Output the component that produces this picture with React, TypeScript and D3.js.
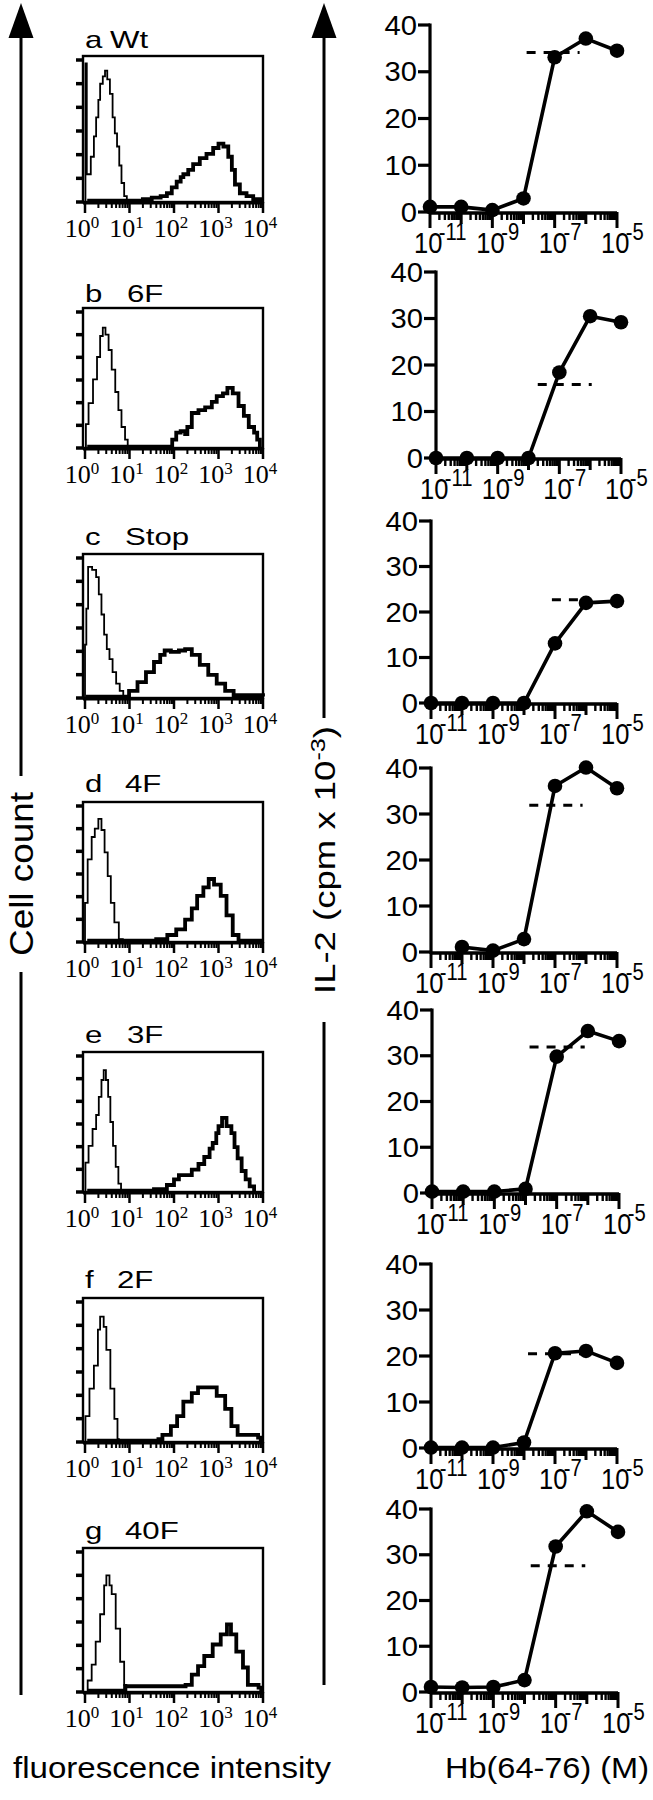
import React from 'react';
import * as d3 from 'd3';

// ---------- data ----------
const panelLetters = ['a', 'b', 'c', 'd', 'e', 'f', 'g'];
const mutantNames = ['Wt', '6F', 'Stop', '4F', '3F', '2F', '40F'];

// flow histograms: [log10 fluorescence, relative cell count]
const ctrlA = [[0,0],[0.01,0.95],[0.04,0.19],[0.13,0.31],[0.2,0.45],[0.25,0.58],[0.3,0.7],[0.34,0.81],[0.4,0.86],[0.45,0.9],[0.5,0.84],[0.56,0.74],[0.62,0.58],[0.67,0.47],[0.72,0.38],[0.77,0.25],[0.82,0.13],[0.88,0.04],[0.94,0]];
const sampleA = [[0.05,0.01],[0.95,0.01],[1.3,0.02],[1.5,0.03],[1.7,0.04],[1.84,0.06],[1.95,0.1],[2.06,0.14],[2.15,0.17],[2.21,0.19],[2.32,0.22],[2.43,0.26],[2.58,0.3],[2.73,0.33],[2.88,0.37],[3.0,0.4],[3.11,0.38],[3.22,0.31],[3.3,0.22],[3.37,0.12],[3.48,0.06],[3.63,0.04],[3.78,0.02],[3.95,0.01],[4.0,0.01]];
const ctrlB = [[0,0],[0.02,0.17],[0.08,0.32],[0.18,0.49],[0.27,0.65],[0.34,0.8],[0.4,0.86],[0.46,0.81],[0.53,0.7],[0.6,0.56],[0.68,0.4],[0.75,0.27],[0.82,0.15],[0.9,0.06],[0.96,0.01],[0.99,0]];
const sampleB = [[0.05,0.01],[1.91,0.01],[1.96,0.06],[2.05,0.11],[2.15,0.12],[2.25,0.1],[2.3,0.15],[2.4,0.25],[2.55,0.27],[2.7,0.29],[2.85,0.33],[2.96,0.37],[3.1,0.39],[3.2,0.43],[3.32,0.39],[3.45,0.3],[3.57,0.23],[3.68,0.15],[3.8,0.11],[3.87,0.06],[3.93,0]];
const ctrlC = [[0,0],[0,0.37],[0.03,0.62],[0.07,0.91],[0.16,0.89],[0.25,0.84],[0.31,0.72],[0.37,0.58],[0.43,0.44],[0.49,0.34],[0.55,0.27],[0.62,0.18],[0.7,0.1],[0.78,0.05],[0.86,0]];
const sampleC = [[0.02,0.01],[0.9,0.01],[0.99,0.05],[1.18,0.11],[1.37,0.18],[1.55,0.25],[1.69,0.3],[1.79,0.33],[1.93,0.32],[2.11,0.33],[2.25,0.34],[2.4,0.3],[2.58,0.23],[2.77,0.16],[2.96,0.1],[3.15,0.05],[3.34,0.02],[3.6,0.02],[4.0,0.01]];
const ctrlD = [[0,0],[0,0.28],[0.06,0.59],[0.15,0.75],[0.22,0.81],[0.3,0.88],[0.37,0.8],[0.44,0.64],[0.51,0.47],[0.58,0.28],[0.66,0.14],[0.76,0.02],[0.85,0]];
const sampleD = [[0.05,0.01],[1.46,0.01],[1.6,0.02],[1.85,0.05],[2.05,0.09],[2.25,0.16],[2.4,0.24],[2.52,0.33],[2.66,0.39],[2.78,0.45],[2.9,0.41],[3.05,0.33],[3.18,0.19],[3.32,0.05],[3.45,0.01],[4.0,0.01]];
const ctrlE = [[0,0],[0.01,0.21],[0.08,0.33],[0.17,0.45],[0.25,0.55],[0.31,0.68],[0.37,0.8],[0.42,0.87],[0.47,0.8],[0.52,0.68],[0.57,0.5],[0.63,0.33],[0.69,0.18],[0.75,0.06],[0.81,0]];
const sampleE = [[0.05,0.01],[1.3,0.01],[1.55,0.02],[1.84,0.05],[2.0,0.09],[2.11,0.12],[2.4,0.16],[2.55,0.2],[2.68,0.25],[2.8,0.31],[2.87,0.35],[2.95,0.42],[3.0,0.47],[3.08,0.53],[3.18,0.47],[3.29,0.42],[3.36,0.32],[3.43,0.24],[3.52,0.15],[3.61,0.09],[3.7,0.04],[3.8,0]];
const ctrlF = [[0,0],[0.01,0.18],[0.1,0.37],[0.2,0.53],[0.29,0.78],[0.34,0.87],[0.42,0.8],[0.48,0.64],[0.57,0.37],[0.66,0.16],[0.73,0.02],[0.76,0]];
const sampleF = [[0.05,0.01],[1.65,0.02],[1.74,0.05],[1.93,0.11],[2.07,0.18],[2.21,0.28],[2.4,0.34],[2.54,0.38],[2.77,0.38],[2.96,0.32],[3.15,0.23],[3.29,0.11],[3.43,0.05],[3.89,0.03],[3.95,0]];
const ctrlG = [[0,0],[0.06,0.08],[0.15,0.19],[0.24,0.35],[0.34,0.54],[0.43,0.74],[0.48,0.81],[0.55,0.74],[0.6,0.68],[0.69,0.44],[0.79,0.21],[0.88,0.05],[0.93,0]];
const sampleG = [[0.05,0.01],[0.9,0.04],[2.26,0.05],[2.4,0.12],[2.54,0.18],[2.68,0.25],[2.87,0.33],[3.05,0.4],[3.19,0.47],[3.28,0.4],[3.4,0.28],[3.55,0.17],[3.66,0.05],[3.9,0.03],[3.96,0]];

const controlHists = [ctrlA, ctrlB, ctrlC, ctrlD, ctrlE, ctrlF, ctrlG];
const sampleHists = [sampleA, sampleB, sampleC, sampleD, sampleE, sampleF, sampleG];
const histTickExps = [0, 1, 2, 3, 4];

// dose response: IL-2 (cpm x 10^-3) vs Hb(64-76) concentration 10^exp M
const concExps = [-11, -10, -9, -8, -7, -6, -5];
const il2A = [1.1, 1.1, 0.4, 2.9, 33.1, 37.1, 34.5];
const il2B = [0, 0, 0, 0, 18.4, 30.5, 29.2];
const il2C = [0, 0, 0, 0, 13.1, 22.0, 22.4];
const il2D = [null, 1.1, 0.3, 2.8, 36.1, 40.1, 35.6];
const il2E = [0.3, 0.3, 0.3, 0.9, 29.8, 35.4, 33.2];
const il2F = [0.1, 0.1, 0.1, 1.2, 20.6, 21.1, 18.5];
const il2G = [1.1, 1.0, 1.1, 2.6, 31.8, 39.5, 35.0];
const il2Series = [il2A, il2B, il2C, il2D, il2E, il2F, il2G];
const dashLevels = [34.1, 15.8, 22.7, 31.9, 31.9, 20.5, 27.6];
const dashFromExp = [-7.9, -7.7, -7.1, -7.83, -7.87, -7.87, -7.8];
const dashToExp = [-6.2, -5.95, -6.1, -6.11, -6.1, -6.1, -6.05];
const il2Ticks = [0, 10, 20, 30, 40];
const concLabelExps = [-11, -9, -7, -5];
const concMajorExps = [-11, -10, -9, -8, -7, -6, -5];

// ---------- layout ----------
const histLayout = [
  { top: 56, base: 202, title: 48, nameX: 110 },
  { top: 308, base: 448, title: 302, nameX: 127 },
  { top: 554, base: 698, title: 545, nameX: 125 },
  { top: 802, base: 942, title: 792, nameX: 125 },
  { top: 1052, base: 1192, title: 1043, nameX: 127 },
  { top: 1298, base: 1442, title: 1288, nameX: 117 },
  { top: 1548, base: 1692, title: 1539, nameX: 125 },
];
const doseLayout = [
  { y0: 212, y40: 25, x0: 430, x1: 617 },
  { y0: 458, y40: 272, x0: 436, x1: 621 },
  { y0: 703, y40: 521, x0: 431, x1: 617 },
  { y0: 952, y40: 768, x0: 431, x1: 617 },
  { y0: 1193, y40: 1010, x0: 432, x1: 619 },
  { y0: 1448, y40: 1264, x0: 431, x1: 617 },
  { y0: 1692, y40: 1509, x0: 431, x1: 618 },
];

const SANS = 'Liberation Sans, Arial, Helvetica, sans-serif';
const SERIF = 'Liberation Serif, Times New Roman, serif';

function Histogram({ i }: { i: number }) {
  const L = histLayout[i];
  const boxL = 83, boxR = 263;
  const x = d3.scaleLinear().domain([0, 4]).range([85, 263]);
  const y = d3.scaleLinear().domain([0, 1]).range([L.base, L.top]);
  const line = d3.line<number[]>().x(d => x(d[0])).y(d => y(d[1])).curve(d3.curveStepAfter);
  const yTickCount = 7;
  const step = (L.base - L.top - 4) / (yTickCount - 1);
  const minor: number[] = [];
  for (let e = 0; e < 4; e++) for (let k = 2; k <= 9; k++) minor.push(e + Math.log10(k));
  const sx = 1.3;
  return (
    <g>
      <g transform={`translate(85,${L.title}) scale(${sx},1)`}>
        <text x={0} y={0} fontFamily={SANS} fontSize={24}>{panelLetters[i]}</text>
        <text x={(L.nameX - 85) / sx} y={0} fontFamily={SANS} fontSize={24}>{mutantNames[i]}</text>
      </g>
      <rect x={boxL} y={L.top} width={boxR - boxL} height={L.base - L.top} fill="none" stroke="#000" strokeWidth={2.4} />
      {d3.range(yTickCount).map(k => (
        <line key={k} x1={76} x2={boxL} y1={L.base - k * step} y2={L.base - k * step} stroke="#000" strokeWidth={3.5} />
      ))}
      <line x1={boxL} x2={boxR} y1={L.base + 1} y2={L.base + 1} stroke="#000" strokeWidth={3} />
      {minor.map((m, k) => (
        <line key={k} x1={x(m)} x2={x(m)} y1={L.base} y2={L.base + 6} stroke="#000" strokeWidth={2} />
      ))}
      {histTickExps.map(e => (
        <line key={e} x1={x(e)} x2={x(e)} y1={L.base} y2={L.base + 11} stroke="#000" strokeWidth={2.5} />
      ))}
      <path d={line(controlHists[i] as number[][]) || ''} fill="none" stroke="#000" strokeWidth={1.8} />
      <path d={line(sampleHists[i] as number[][]) || ''} fill="none" stroke="#000" strokeWidth={3.8} strokeLinejoin="miter" />
      {histTickExps.map(e => (
        <text key={e} x={x(e) - 3} y={L.base + 35} textAnchor="middle" fontFamily={SERIF} fontSize={26}>
          10<tspan dy={-9} fontSize={17}>{e}</tspan>
        </text>
      ))}
    </g>
  );
}

function DoseChart({ i }: { i: number }) {
  const F = doseLayout[i];
  const x = d3.scaleLog().domain([1e-11, 1e-5]).range([F.x0, F.x1]);
  const y = d3.scaleLinear().domain([0, 40]).range([F.y0, F.y40]);
  const pts = concExps
    .map((e, j) => ({ c: Math.pow(10, e), v: il2Series[i][j] }))
    .filter(d => d.v !== null) as { c: number; v: number }[];
  const line = d3.line<{ c: number; v: number }>().x(d => x(d.c)).y(d => y(d.v));
  const minor: number[] = [];
  for (let e = -11; e < -5; e++) for (let k = 2; k <= 9; k++) minor.push(k * Math.pow(10, e));
  return (
    <g>
      <line x1={F.x0} x2={F.x0} y1={F.y0 + 2} y2={y(40) - 1.5} stroke="#000" strokeWidth={3.2} />
      {il2Ticks.map(t => (
        <g key={t}>
          <line x1={F.x0 - 12} x2={F.x0} y1={y(t)} y2={y(t)} stroke="#000" strokeWidth={3.2} />
          <g transform={`translate(${F.x0 - 13},${y(t) + 9.5}) scale(1.08,1)`}>
            <text textAnchor="end" fontFamily={SANS} fontSize={27}>{t}</text>
          </g>
        </g>
      ))}
      <line x1={F.x0} x2={F.x1} y1={F.y0 + 1} y2={F.y0 + 1} stroke="#000" strokeWidth={3.5} />
      {minor.map((m, k) => (
        <line key={k} x1={x(m)} x2={x(m)} y1={F.y0} y2={F.y0 + 8} stroke="#000" strokeWidth={2.4} />
      ))}
      {concMajorExps.map(e => (
        <line key={e} x1={x(Math.pow(10, e))} x2={x(Math.pow(10, e))} y1={F.y0} y2={F.y0 + (concLabelExps.includes(e) ? 16 : 12)} stroke="#000" strokeWidth={3} />
      ))}
      {concLabelExps.map(e => (
        <g key={e} transform={`translate(${x(Math.pow(10, e)) - 16},${F.y0 + 41}) scale(0.88,1)`}>
          <text fontFamily={SANS} fontSize={29}>
            10<tspan dy={-13} dx={-4} fontSize={23}>{`${e}`}</tspan>
          </text>
        </g>
      ))}
      <line
        x1={x(Math.pow(10, dashFromExp[i]))}
        x2={x(Math.pow(10, dashToExp[i]))}
        y1={y(dashLevels[i])}
        y2={y(dashLevels[i])}
        stroke="#000"
        strokeWidth={3}
        strokeDasharray="9 8"
      />
      <path d={line(pts) || ''} fill="none" stroke="#000" strokeWidth={3.6} strokeLinejoin="round" />
      {pts.map((d, k) => (
        <circle key={k} cx={x(d.c)} cy={y(d.v)} r={7.3} fill="#000" />
      ))}
    </g>
  );
}

export default function App() {
  return (
    <svg
      width={653}
      height={1800}
      viewBox="0 0 653 1800"
      style={{ position: 'absolute', left: 0, top: 0, background: '#fff' }}
    >
      <rect x={0} y={0} width={653} height={1800} fill="#fff" />
      {/* left arrow: Cell count */}
      <polygon points="21,3 8.5,38 33.5,38" fill="#000" />
      <line x1={21} x2={21} y1={30} y2={776} stroke="#000" strokeWidth={3} />
      <line x1={21} x2={21} y1={972} y2={1695} stroke="#000" strokeWidth={3} />
      <g transform="translate(33,874) rotate(-90)">
        <text textAnchor="middle" fontFamily={SANS} fontSize={34} textLength={164} lengthAdjust="spacingAndGlyphs">Cell count</text>
      </g>
      {/* right arrow: IL-2 */}
      <polygon points="324,3 311.5,38 336.5,38" fill="#000" />
      <line x1={324} x2={324} y1={30} y2={718} stroke="#000" strokeWidth={3} />
      <line x1={324} x2={324} y1={1022} y2={1685} stroke="#000" strokeWidth={3} />
      <g transform="translate(335,860) rotate(-90)">
        <text textAnchor="middle" fontFamily={SANS} fontSize={29} textLength={268} lengthAdjust="spacingAndGlyphs">
          IL-2 (cpm x 10<tspan dy={-10} fontSize={20}>-3</tspan><tspan dy={10}>)</tspan>
        </text>
      </g>
      {panelLetters.map((_, i) => <Histogram key={'h' + i} i={i} />)}
      {panelLetters.map((_, i) => <DoseChart key={'d' + i} i={i} />)}
      <text x={172} y={1778} textAnchor="middle" fontFamily={SANS} fontSize={30} textLength={318} lengthAdjust="spacingAndGlyphs">fluorescence intensity</text>
      <text x={547} y={1778} textAnchor="middle" fontFamily={SANS} fontSize={30} textLength={204} lengthAdjust="spacingAndGlyphs">Hb(64-76) (M)</text>
    </svg>
  );
}
